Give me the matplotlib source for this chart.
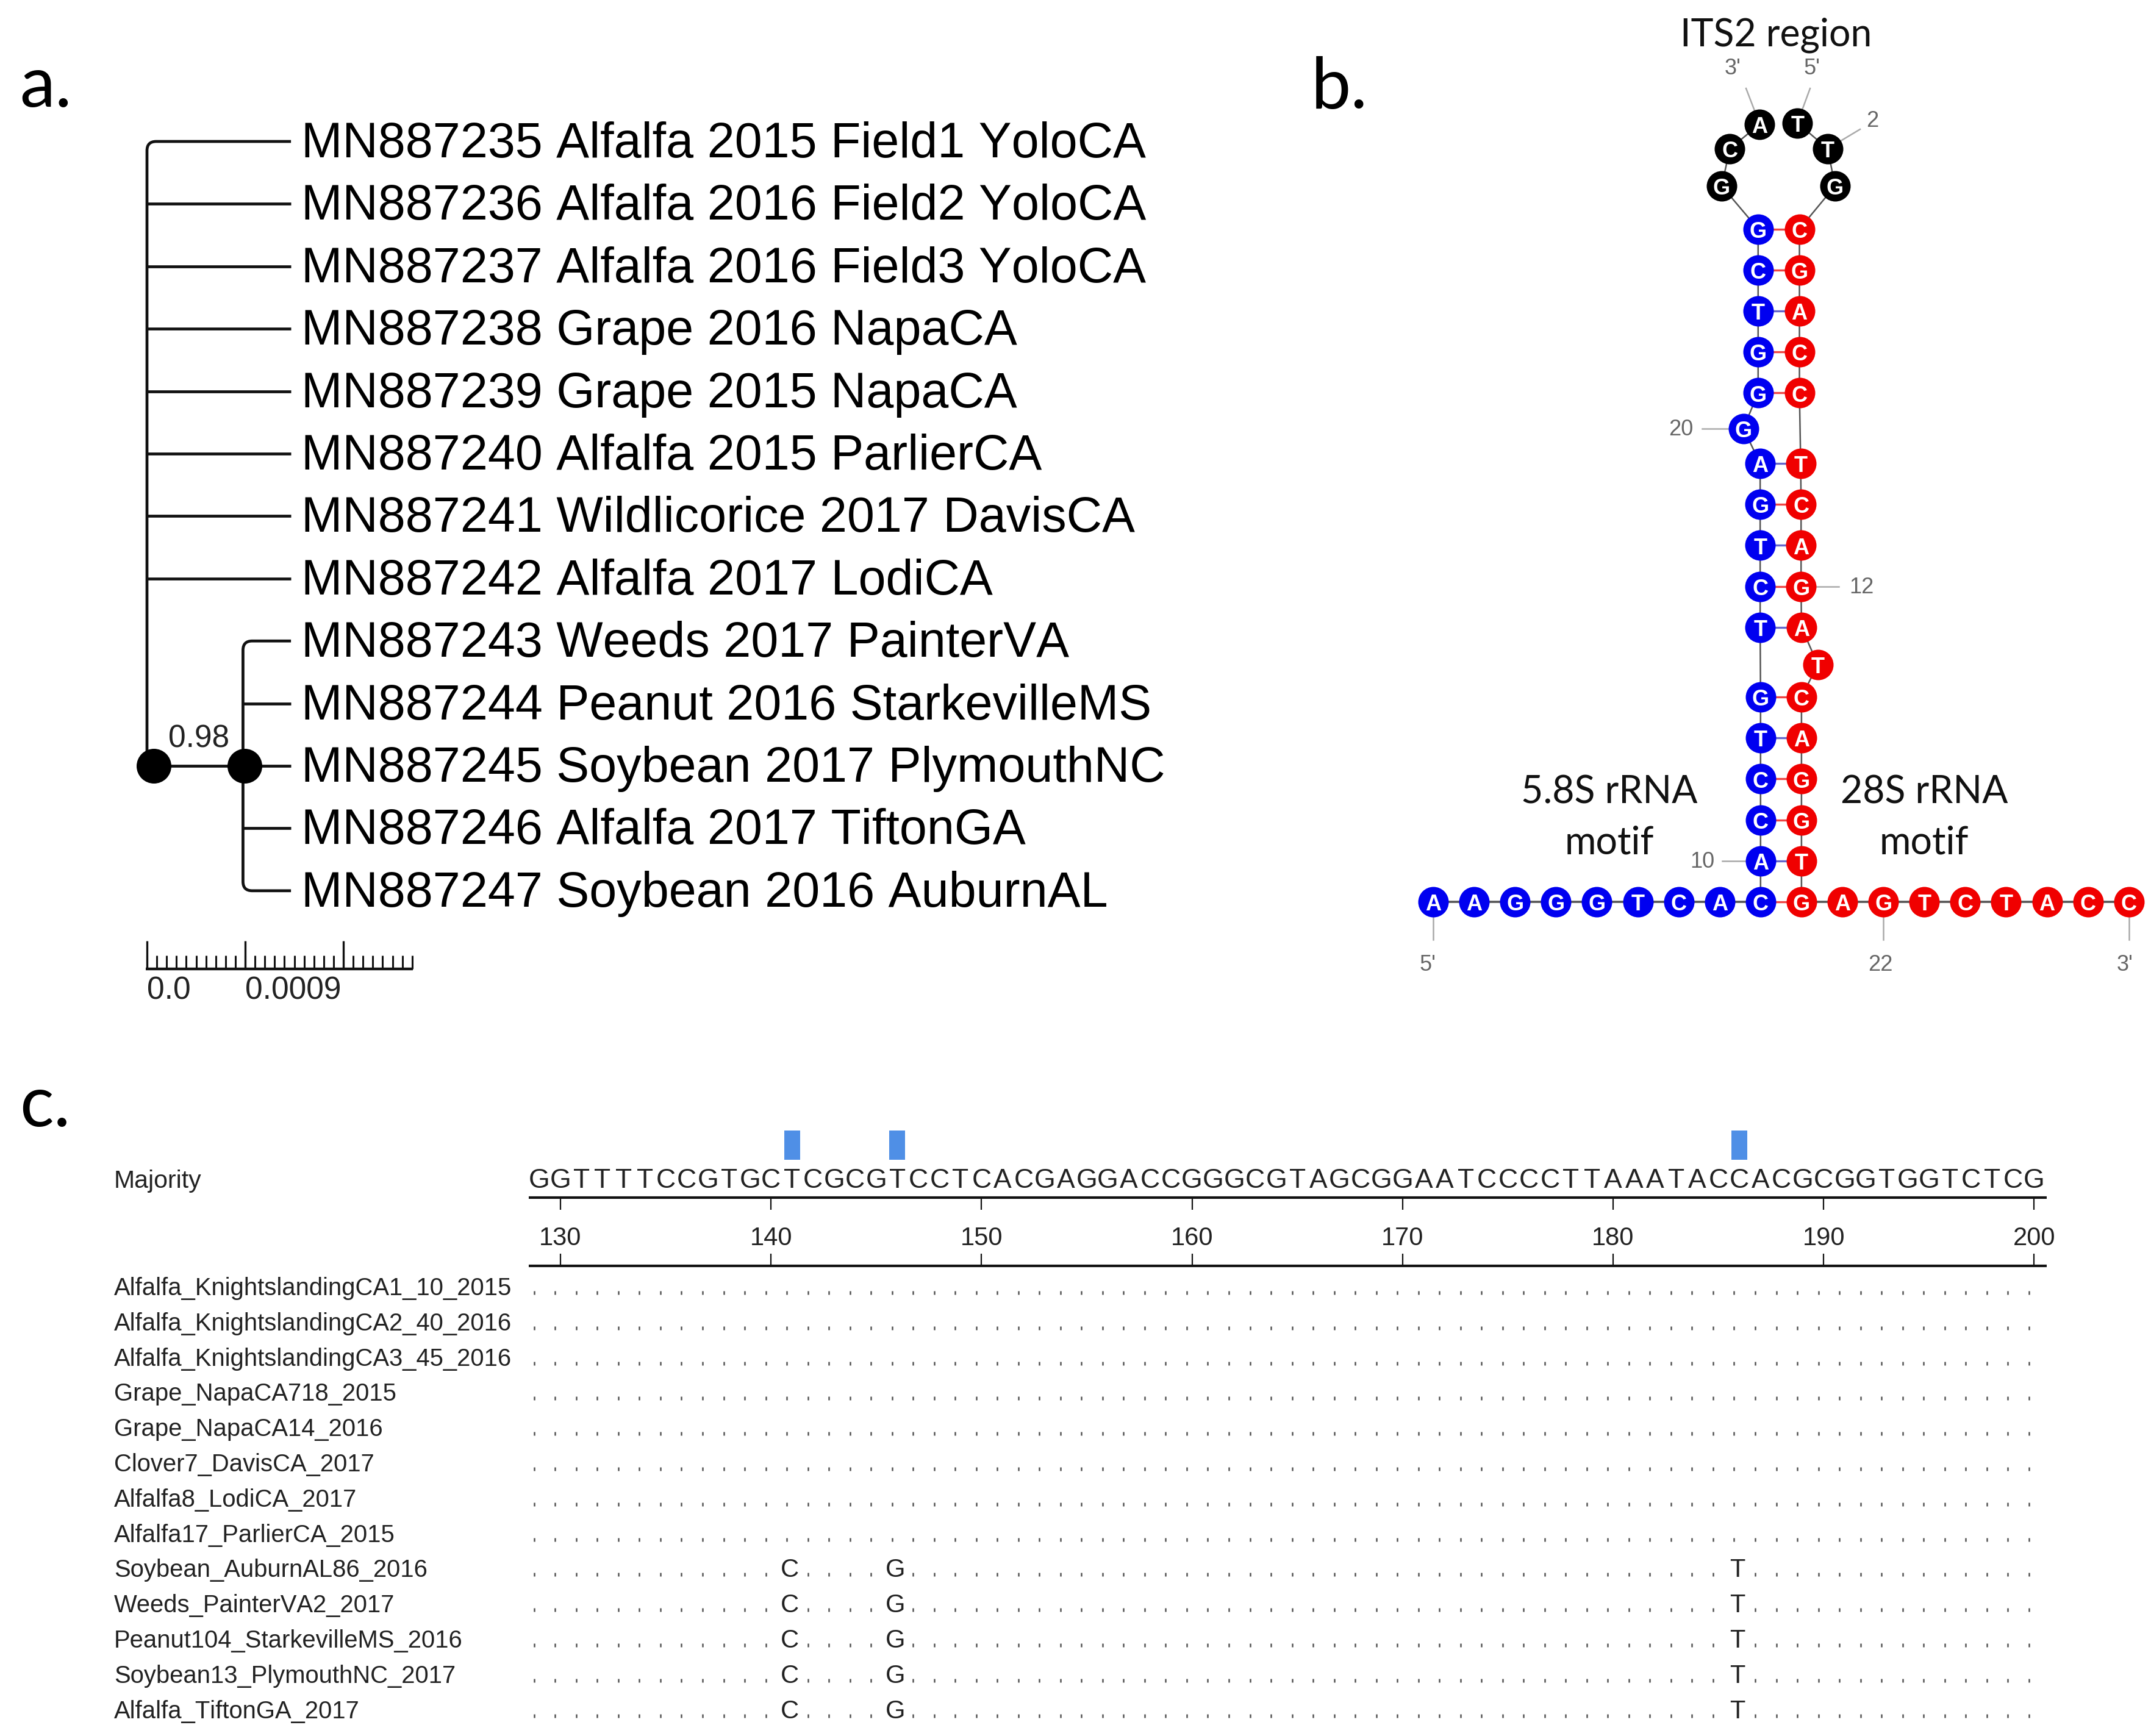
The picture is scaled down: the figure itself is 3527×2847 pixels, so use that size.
import matplotlib
matplotlib.use("Agg")
import matplotlib.pyplot as plt
from matplotlib.path import Path
from matplotlib.patches import PathPatch
from matplotlib import font_manager as fm
import numpy as np

plt.rcParams["text.kerning_factor"] = 20

W, H = 3527, 2847
DPI = 100

# ---------- data: panel a ----------
tree_labels = [
    "MN887235 Alfalfa 2015 Field1 YoloCA",
    "MN887236 Alfalfa 2016 Field2 YoloCA",
    "MN887237 Alfalfa 2016 Field3 YoloCA",
    "MN887238 Grape 2016 NapaCA",
    "MN887239 Grape 2015 NapaCA",
    "MN887240 Alfalfa 2015 ParlierCA",
    "MN887241 Wildlicorice 2017 DavisCA",
    "MN887242 Alfalfa 2017 LodiCA",
    "MN887243 Weeds 2017 PainterVA",
    "MN887244 Peanut 2016 StarkevilleMS",
    "MN887245 Soybean 2017 PlymouthNC",
    "MN887246 Alfalfa 2017 TiftonGA",
    "MN887247 Soybean 2016 AuburnAL",
]
root_children = list(range(8))
clade_children = [8, 9, 10, 11, 12]
clade_row = 10
clade_dist = 0.00088
tip_dist = 0.00132
clade_support = "0.98"
scale_major = [0.0, 0.0009, 0.0018]
scale_major_labels = ["0.0", "0.0009"]
scale_minor_step = 0.00009
scale_minor_count = 27

# ---------- data: panel b ----------
strand_5p = list("AAGGGTCAC")
strand_3p = list("GAGTCTACC")
arm_5p_x = list(range(0, 9))
arm_3p_x = list(range(9, 18))
# stem strands, bottom to top
stem_blue = list("ACCTG") + list("TCTGA") + ["G"] + list("GGTCG")
stem_red = list("TGGAC") + ["T"] + list("AGACT") + list("CCAGC")
blue_x = [8.0, 8.0, 8.0, 8.0, 8.0, 7.99, 7.99, 7.99, 7.99, 7.99, 7.58, 7.94, 7.94, 7.94, 7.94, 7.94]
blue_y = [1.0, 2.0, 3.0, 4.0, 5.0, 6.7, 7.7, 8.7, 9.7, 10.7, 11.55, 12.42, 13.42, 14.42, 15.42, 16.42]
red_x = [9.0, 9.0, 9.0, 9.0, 9.0, 9.4, 9.0, 8.99, 8.99, 8.99, 8.98, 8.95, 8.95, 8.95, 8.95, 8.95]
red_y = [1.0, 2.0, 3.0, 4.0, 5.0, 5.79, 6.7, 7.7, 8.7, 9.7, 10.7, 12.42, 13.42, 14.42, 15.42, 16.42]
# pairs: (index in blue strand, index in red strand)
pairs_blue = [0, 1, 2, 3, 4, 5, 6, 7, 8, 9, 11, 12, 13, 14, 15]
pairs_red = [0, 1, 2, 3, 4, 6, 7, 8, 9, 10, 11, 12, 13, 14, 15]
loop_letters = list("GCATTG")
loop_x = [7.05, 7.25, 7.98, 8.9, 9.64, 9.82]
loop_y = [17.47, 18.38, 18.98, 19.01, 18.38, 17.47]

# ---------- data: panel c ----------
majority = "GGTTTTCCGTGCTCGCGTCCTCACGAGGACCGGGCGTAGCGGAATCCCCTTAAATACCACGCGGTGGTCTCG"
first_position = 129
variable_sites = [141, 146, 186]
variant_bases = ["C", "G", "T"]
sample_names = [
    "Alfalfa_KnightslandingCA1_10_2015",
    "Alfalfa_KnightslandingCA2_40_2016",
    "Alfalfa_KnightslandingCA3_45_2016",
    "Grape_NapaCA718_2015",
    "Grape_NapaCA14_2016",
    "Clover7_DavisCA_2017",
    "Alfalfa8_LodiCA_2017",
    "Alfalfa17_ParlierCA_2015",
    "Soybean_AuburnAL86_2016",
    "Weeds_PainterVA2_2017",
    "Peanut104_StarkevilleMS_2016",
    "Soybean13_PlymouthNC_2017",
    "Alfalfa_TiftonGA_2017",
]
samples_with_variants = [8, 9, 10, 11, 12]
ruler_ticks = [130, 140, 150, 160, 170, 180, 190, 200]

# ---------- helpers ----------
installed = {f.name for f in fm.fontManager.ttflist}
NARROW = "Liberation Sans Narrow" if "Liberation Sans Narrow" in installed else "Liberation Sans"
ARIAL = "Liberation Sans"
CALIBRI = "Lato"

fig = plt.figure(figsize=(W / DPI, H / DPI), dpi=DPI, facecolor="white")


def panel(x0, x1, y0, y1, xlim, ylim):
    """axes covering pixel box x0..x1, y0..y1 (y from top), with data limits."""
    ax = fig.add_axes([x0 / W, 1 - y1 / H, (x1 - x0) / W, (y1 - y0) / H])
    ax.set_xlim(*xlim)
    ax.set_ylim(*ylim)
    ax.axis("off")
    return ax


def ftext(x, y, s, **kw):
    fig.text(x / W, 1 - y / H, s, **kw)


px2pt = 72 / DPI

# panel letters
for lx, ly, s in [(32, 175, "a."), (2150, 177, "b."), (32, 1847, "c.")]:
    ftext(lx, ly, s, family=CALIBRI, fontsize=84, color="black", va="baseline", ha="left")

# ---------- panel a ----------
XK = 161 / 0.0009          # pixels per unit distance
RX = 241
RY = 232
RS = 102.4
x0p, x1p, y0p, y1p = 150, 2100, 100, 1700
axa = panel(x0p, x1p, y0p, y1p,
            ((x0p - RX) / XK, (x1p - RX) / XK),
            ((y1p - RY) / RS, (y0p - RY) / RS))
lw = 3.4
rx = 15 / XK
ry = 15 / RS


def elbow(ax, x, y_from, y_to, x_end, **kw):
    sign = 1 if y_to > y_from else -1
    verts = [(x, y_from), (x, y_to - sign * ry), (x, y_to), (x + rx, y_to), (x_end, y_to)]
    codes = [Path.MOVETO, Path.LINETO, Path.CURVE3, Path.CURVE3, Path.LINETO]
    ax.add_patch(PathPatch(Path(verts, codes), fill=False, **kw))


line_kw = dict(lw=lw, edgecolor="#111111", capstyle="butt", joinstyle="round")
elbow(axa, 0, clade_row, root_children[0], tip_dist, **line_kw)
for r in root_children[1:]:
    axa.plot([0, tip_dist], [r, r], color="#111111", lw=lw, solid_capstyle="butt")
axa.plot([0, clade_dist], [clade_row, clade_row], color="#111111", lw=lw, solid_capstyle="butt")
elbow(axa, clade_dist, clade_row, clade_children[0], tip_dist, **line_kw)
elbow(axa, clade_dist, clade_row, clade_children[-1], tip_dist, **line_kw)
for r in clade_children[1:-1]:
    axa.plot([clade_dist, tip_dist], [r, r], color="#111111", lw=lw, solid_capstyle="butt")
d_pt = 57 * px2pt
axa.scatter([11 / XK, clade_dist + 3 / XK], [clade_row, clade_row], s=d_pt ** 2,
            color="black", zorder=5, linewidths=0)
for i, lab in enumerate(tree_labels):
    axa.text(tip_dist + 17 / XK, i + 5 / RS, lab, family=ARIAL, fontsize=58.2, va="center", ha="left", color="black")
axa.text((326 - RX) / XK, clade_row - 44 / RS, clade_support, family=ARIAL, fontsize=37,
         va="center", ha="center", color="#222222")

# scale bar
sb_y = (1589 - RY) / RS
maj_h = 46 / RS
min_h = 22 / RS
axa.plot([-2 / XK, scale_minor_step * scale_minor_count + 1 / XK], [sb_y, sb_y],
         color="#111111", lw=3.2, solid_capstyle="butt")
for k in range(scale_minor_count + 1):
    v = k * scale_minor_step
    axa.plot([v, v], [sb_y, sb_y - min_h], color="#111111", lw=2.2, solid_capstyle="butt")
for v in scale_major:
    axa.plot([v, v], [sb_y, sb_y - maj_h], color="#111111", lw=2.4, solid_capstyle="butt")
for v, s in zip(scale_major, scale_major_labels):
    axa.text(v, (1625 - RY) / RS, s, family=ARIAL, fontsize=37, va="center", ha="left", color="#222222")

# ---------- panel b ----------
UX = 67.1
UY = 67.2
BX = 2350
BY = 1479
x0b, x1b, y0b, y1b = 2200, 3527, 0, 1650
axb = panel(x0b, x1b, y0b, y1b,
            ((x0b - BX) / UX, (x1b - BX) / UX),
            ((BY - y1b) / UY, (BY - y0b) / UY))
BLUE = "#0000f0"
RED = "#f00000"
GREY = "#555555"
SOFT = "#aaaaaa"
node_s = (50 * px2pt) ** 2

# backbone
axb.plot(arm_5p_x, [0] * len(arm_5p_x), color=GREY, lw=2.6, zorder=1)
axb.plot(arm_3p_x, [0] * len(arm_3p_x), color=GREY, lw=2.6, zorder=1)
axb.plot([arm_5p_x[-1]] + blue_x, [0] + blue_y, color=GREY, lw=1.8, zorder=1)
axb.plot([arm_3p_x[0]] + red_x, [0] + red_y, color=GREY, lw=1.8, zorder=1)
axb.plot([blue_x[-1]] + loop_x[:3], [blue_y[-1]] + loop_y[:3], color=GREY, lw=1.8, zorder=1)
axb.plot([red_x[-1]] + loop_x[::-1][:3], [red_y[-1]] + loop_y[::-1][:3], color=GREY, lw=1.8, zorder=1)

# base pairs
axb.plot([arm_5p_x[-1], arm_3p_x[0]], [0, 0], color="#ee4444", lw=2.4, zorder=2)
for b, r in zip(pairs_blue, pairs_red):
    is_at = stem_blue[b] in "AT"
    axb.plot([blue_x[b], red_x[r]], [blue_y[b], red_y[r]],
             color="#6666cc" if is_at else "#ee4444", lw=2.4, zorder=2)


def ux(px): return (px - BX) / UX
def uy(py): return (BY - py) / UY


leaders = [
    (loop_x[2], loop_y[2], ux(2863), uy(145), "3'", ux(2841), uy(113)),
    (loop_x[3], loop_y[3], ux(2968), uy(145), "5'", ux(2971), uy(113)),
    (loop_x[4], loop_y[4], ux(3050), uy(212), "2", ux(3070), uy(198)),
    (blue_x[10], blue_y[10], ux(2791), blue_y[10], "20", ux(2756), blue_y[10] - 0.03),
    (red_x[7], red_y[7], ux(3015), red_y[7], "12", ux(3052), red_y[7] - 0.03),
    (blue_x[0], blue_y[0], ux(2824), blue_y[0], "10", ux(2791), blue_y[0] - 0.03),
    (0, 0, 0, uy(1541), "5'", ux(2341), uy(1582)),
    (11, 0, 11, uy(1541), "22", ux(3083), uy(1582)),
    (17, 0, 17, uy(1541), "3'", ux(3484), uy(1582)),
]
for xa, ya, xb, yb, s, tx, ty in leaders:
    axb.plot([xa, xb], [ya, yb], color=SOFT, lw=1.8, zorder=0.5)
    axb.text(tx, ty, s, family=ARIAL, fontsize=26, color="#666666", ha="center", va="center")


def nodes(xs, ys, letters, color):
    axb.scatter(xs, ys, s=node_s, color=color, linewidths=0, zorder=3)
    for x, y, c in zip(xs, ys, letters):
        axb.text(x, y - 0.01, c, family=ARIAL, weight="bold", fontsize=26, color="white",
                 ha="center", va="center_baseline", zorder=4)


nodes(arm_5p_x, [0] * 9, strand_5p, BLUE)
nodes(arm_3p_x, [0] * 9, strand_3p, RED)
nodes(blue_x, blue_y, stem_blue, BLUE)
nodes(red_x, red_y, stem_red, RED)
nodes(loop_x, loop_y, loop_letters, "black")

ftext(2912, 58, "ITS2 region", family=CALIBRI, fontsize=45, ha="center", va="center", color="#111111")
for cx, s in [(2639, "5.8S rRNA"), (3155, "28S rRNA")]:
    ftext(cx, 1300, s, family=CALIBRI, fontsize=45, ha="center", va="center", color="#111111")
    ftext(cx, 1382, "motif", family=CALIBRI, fontsize=45, ha="center", va="center", color="#111111")

# ---------- panel c ----------
PX = 919
PK = 34.52
R0 = 2108
RC = 57.8
x0c, x1c, y0c, y1c = 150, 3450, 1840, 2847
axc = panel(x0c, x1c, y0c, y1c,
            (130 + (x0c - PX) / PK, 130 + (x1c - PX) / PK),
            ((y1c - R0) / RC, (y0c - R0) / RC))


def ry_(py): return (py - R0) / RC


axc.bar(variable_sites, height=ry_(1854) - ry_(1902), bottom=ry_(1902), width=0.76,
        color="#4f8fe6", linewidth=0)

positions = np.arange(first_position, first_position + len(majority))
for p, c in zip(positions, majority):
    axc.text(p, ry_(1937), c, family=ARIAL, fontsize=32, ha="center", va="center", color="#222222")
axc.text(130 + (187 - PX) / PK, ry_(1937), "Majority", family=NARROW, fontsize=29.5,
         ha="left", va="center", color="#222222")

line_x = [128.5, 200.6]
for ly, t0, t1 in [(1964, 1964, 1984), (2076, 2056, 2076)]:
    axc.plot(line_x, [ry_(ly)] * 2, color="#111111", lw=3.0, solid_capstyle="butt")
    for t in ruler_ticks:
        axc.plot([t, t], [ry_(t0), ry_(t1)], color="#111111", lw=1.6, solid_capstyle="butt")
for t in ruler_ticks:
    axc.text(t, ry_(2031), str(t), family=NARROW, fontsize=30, ha="center", va="center", color="#222222")

for i, name in enumerate(sample_names):
    axc.text(130 + (187 - PX) / PK, i + 5 / RC, name, family=NARROW, fontsize=28.8, ha="left", va="center", color="#222222")
    shown = positions
    if i in samples_with_variants:
        shown = np.array([p for p in positions if p not in variable_sites])
        for p, b in zip(variable_sites, variant_bases):
            axc.text(p - 0.1, i + 5 / RC, b, family=ARIAL, fontsize=30, ha="center", va="center", color="#222222")
    axc.scatter(shown - 0.25, np.full(len(shown), i + 12 / RC), marker="|", s=22, linewidths=1.8,
                color="#555555")

fig.savefig("out.png", dpi=DPI, facecolor="white")
